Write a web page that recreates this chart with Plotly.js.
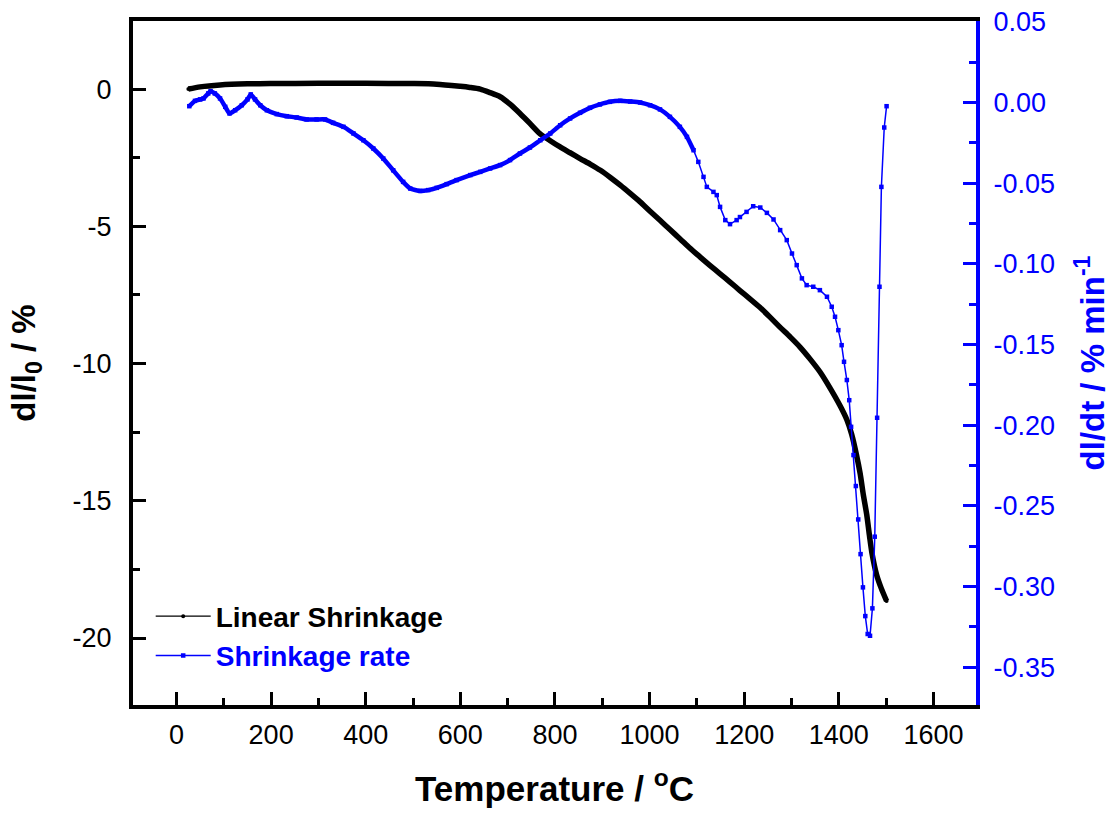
<!DOCTYPE html>
<html><head><meta charset="utf-8">
<script src="https://cdn.plot.ly/plotly-3.0.1.min.js"></script>
<style>html,body{margin:0;padding:0;background:#fff;}#chart{width:1114px;height:814px;}</style>
</head><body><div id="chart"></div>
<script>
// Linear shrinkage dl/l0 (%) vs temperature (°C)
const shrinkT = [25, 50, 92, 150, 198, 300, 400, 500, 550, 600, 620, 642, 663, 684, 705, 726, 747, 768, 790, 810, 832, 853, 875, 896, 917, 938, 959, 980, 1001, 1022, 1043, 1064, 1085, 1107, 1128, 1149, 1170, 1191, 1212, 1233, 1254, 1276, 1297, 1318, 1339, 1360, 1380, 1403, 1417, 1427, 1437, 1445, 1452, 1459, 1465, 1470, 1480, 1490, 1501];
const shrinkV = [0.0, 0.08, 0.15, 0.19, 0.2, 0.21, 0.21, 0.2, 0.18, 0.1, 0.06, 0.0, -0.13, -0.28, -0.55, -0.89, -1.25, -1.62, -1.88, -2.1, -2.32, -2.53, -2.74, -2.96, -3.22, -3.5, -3.8, -4.11, -4.45, -4.78, -5.12, -5.45, -5.79, -6.12, -6.43, -6.73, -7.03, -7.34, -7.64, -7.95, -8.3, -8.68, -9.03, -9.4, -9.83, -10.3, -10.85, -11.55, -12.05, -12.57, -13.3, -14.0, -14.8, -15.5, -16.3, -16.9, -17.7, -18.2, -18.65];

// Shrinkage rate dl/dt (% min^-1) vs temperature (°C)
const rateT = [27, 39, 50, 57, 67, 72, 81, 92, 103, 112, 124, 138, 150, 157, 166, 177, 191, 212, 233, 254, 275, 296, 314, 331, 353, 374, 395, 416, 437, 458, 479, 494, 515, 532, 550, 571, 592, 621, 642, 663, 684, 705, 726, 747, 769, 790, 811, 832, 853, 874, 895, 916, 938, 959, 980, 1001, 1022, 1043, 1064, 1079, 1093, 1103, 1114, 1121, 1135, 1142, 1149, 1160, 1170, 1184, 1191, 1205, 1219, 1234, 1248, 1262, 1276, 1290, 1301, 1311, 1322, 1332, 1346, 1360, 1375, 1385, 1392, 1399, 1406, 1411, 1417, 1422, 1426, 1431, 1436, 1441, 1446, 1451, 1456, 1461, 1466, 1471, 1476, 1481, 1486, 1490, 1496, 1501];
const rateV = [-0.0023, 0.001, 0.0019, 0.0025, 0.0056, 0.007, 0.0056, 0.0025, -0.0027, -0.0068, -0.0048, -0.0017, 0.0019, 0.005, 0.0019, -0.0017, -0.0048, -0.0072, -0.0085, -0.0093, -0.0105, -0.0105, -0.0105, -0.0126, -0.0151, -0.0192, -0.0234, -0.0285, -0.0347, -0.042, -0.0492, -0.0533, -0.0548, -0.0543, -0.0529, -0.0506, -0.0481, -0.045, -0.043, -0.0409, -0.0388, -0.0357, -0.0316, -0.0279, -0.0234, -0.0192, -0.0141, -0.0099, -0.0064, -0.0033, -0.0012, 0.0004, 0.001, 0.0006, 0.0, -0.0017, -0.0043, -0.0089, -0.0151, -0.0213, -0.0296, -0.0368, -0.0461, -0.0523, -0.0554, -0.0574, -0.0647, -0.0729, -0.0754, -0.0729, -0.071, -0.0678, -0.0643, -0.0651, -0.0684, -0.0725, -0.0791, -0.0853, -0.0936, -0.1008, -0.109, -0.1132, -0.1142, -0.1163, -0.1204, -0.1266, -0.1328, -0.1411, -0.1504, -0.1607, -0.172, -0.1845, -0.201, -0.2185, -0.2377, -0.2584, -0.2799, -0.3005, -0.3183, -0.3294, -0.3305, -0.3135, -0.2691, -0.1954, -0.1142, -0.0523, -0.0155, -0.0023];

const xTickVals = [0, 200, 400, 600, 800, 1000, 1200, 1400, 1600];
const yTickVals = [0, -5, -10, -15, -20];
const y2TickVals = [0.05, 0.00, -0.05, -0.10, -0.15, -0.20, -0.25, -0.30, -0.35];
const y2TickText = ['0.05', '0.00', '-0.05', '-0.10', '-0.15', '-0.20', '-0.25', '-0.30', '-0.35'];

const FONT = 'Liberation Sans, Arial, sans-serif';
const BLUE = '#0000ff';

// dense (continuous-looking) part of the rate curve
const bandIdx = rateT.map((t, i) => i).filter(i => rateT[i] <= 1093);
const bandT = bandIdx.map(i => rateT[i]);
const bandV = bandIdx.map(i => rateV[i]);

const traces = [
  { x: shrinkT, y: shrinkV, type: 'scatter', mode: 'lines+markers', name: '<b>Linear Shrinkage</b>',
    line: { color: '#000', width: 1.2 }, marker: { color: '#000', size: 4, symbol: 'circle' },
    xaxis: 'x', yaxis: 'y', showlegend: true, hoverinfo: 'skip' },
  { x: shrinkT, y: shrinkV, type: 'scatter', mode: 'lines', showlegend: false,
    line: { color: '#000', width: 5.5, shape: 'spline', smoothing: 0.7 }, xaxis: 'x', yaxis: 'y' },
  { x: bandT, y: bandV, type: 'scatter', mode: 'lines', showlegend: false,
    line: { color: BLUE, width: 4.5, shape: 'spline', smoothing: 0.5 }, xaxis: 'x', yaxis: 'y2' },
  { x: rateT, y: rateV, type: 'scatter', mode: 'lines+markers',
    name: '<b><span style="color:#0000ff">Shrinkage rate</span></b>',
    line: { color: BLUE, width: 1.5 }, marker: { color: BLUE, size: 4.5, symbol: 'square' },
    xaxis: 'x', yaxis: 'y2' }
];

const layout = {
  width: 1114, height: 814,
  margin: { l: 133, r: 138, t: 21, b: 109, pad: 0 },
  paper_bgcolor: '#fff', plot_bgcolor: '#fff',
  font: { family: FONT, color: '#000' },
  showlegend: true,
  legend: { x: 0.021, y: 0.166, xanchor: 'left', yanchor: 'top', bgcolor: 'rgba(0,0,0,0)',
    font: { family: FONT, size: 28, color: '#000' }, itemwidth: 55, tracegroupgap: 0 },
  xaxis: {
    range: [-92, 1690], tickvals: xTickVals, ticktext: xTickVals.map(String),
    showline: true, linecolor: '#000', linewidth: 4, mirror: true,
    ticks: 'inside', ticklen: 13, tickwidth: 3, tickcolor: '#000',
    minor: { ticks: 'inside', ticklen: 7, tickwidth: 3, dtick: 100, tick0: 0, tickcolor: '#000' },
    showgrid: false, zeroline: false,
    tickfont: { family: FONT, size: 27, color: '#000' }, ticklabelstandoff: 3,
    title: { text: '<b>Temperature / <sup>o</sup>C</b>', font: { family: FONT, size: 35, color: '#000' }, standoff: 28 }
  },
  yaxis: {
    range: [-22.44, 2.48], tickvals: yTickVals, ticktext: yTickVals.map(String),
    showline: true, linecolor: '#000', linewidth: 4, mirror: false,
    ticks: 'inside', ticklen: 13, tickwidth: 3, tickcolor: '#000',
    minor: { ticks: 'inside', ticklen: 7, tickwidth: 3, dtick: 2.5, tick0: 0, tickcolor: '#000' },
    showgrid: false, zeroline: false,
    tickfont: { family: FONT, size: 27, color: '#000' }, ticklabelstandoff: 12,
    title: { text: '<b>dl/l<sub>0</sub> / %</b>', font: { family: FONT, size: 33, color: '#000' }, standoff: 28 }
  },
  yaxis2: {
    overlaying: 'y', side: 'right', anchor: 'x',
    range: [-0.3734, 0.0505], tickvals: y2TickVals, ticktext: y2TickText,
    showline: true, linecolor: BLUE, linewidth: 4,
    ticks: 'inside', ticklen: 13, tickwidth: 3, tickcolor: BLUE,
    minor: { ticks: 'inside', ticklen: 7, tickwidth: 3, dtick: 0.025, tick0: 0, tickcolor: BLUE },
    showgrid: false, zeroline: false,
    tickfont: { family: FONT, size: 27, color: BLUE }, ticklabelstandoff: 8,
    title: { text: '<b>dl/dt / % min<sup>-1</sup></b>', font: { family: FONT, size: 33, color: BLUE }, standoff: 28 }
  }
};

Plotly.newPlot('chart', traces, layout, { displayModeBar: false, staticPlot: true });
</script>
</body></html>
